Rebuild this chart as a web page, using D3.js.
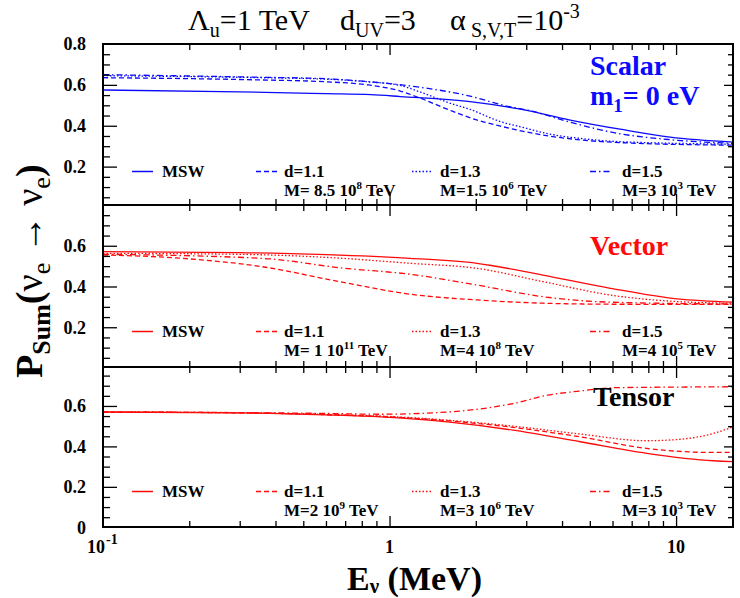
<!DOCTYPE html>
<html>
<head>
<meta charset="utf-8">
<script src="https://cdn.jsdelivr.net/npm/d3@7"></script>
<style>
  body { margin: 0; background: #fff; }
  svg { display: block; }
  svg text { font-family: "Liberation Serif", "DejaVu Serif", serif; }
</style>
</head>
<body>
<script>
// ---- data: [E (MeV), P_sum] ----
const scalarMSW = [[0.1,0.575],[0.3,0.566],[0.6,0.557],[0.86,0.552],[1.09,0.543],[1.91,0.518],[2.86,0.481],[4.27,0.428],[6.38,0.383],[9.53,0.344],[15.8,0.32]];
const scalarD11 = [[0.1,0.635],[0.33,0.625],[0.6,0.615],[0.84,0.6],[1.09,0.57],[1.28,0.535],[1.63,0.475],[2.0,0.43],[2.44,0.398],[3.6,0.35],[4.7,0.33],[7,0.315],[15.8,0.305]];
const scalarD13 = [[0.1,0.645],[0.33,0.636],[0.6,0.628],[0.84,0.615],[1.09,0.597],[1.28,0.565],[1.63,0.51],[1.91,0.48],[2.44,0.42],[2.86,0.395],[3.6,0.36],[4.7,0.337],[6.4,0.322],[15.8,0.31]];
const scalarD15 = [[0.1,0.65],[0.33,0.638],[0.6,0.63],[0.86,0.615],[1.25,0.59],[1.91,0.545],[2.5,0.5],[3.17,0.47],[4.2,0.42],[6.3,0.362],[9.5,0.332],[15.8,0.314]];

const vectorMSW = [[0.1,0.571],[0.3,0.566],[0.6,0.556],[1.18,0.538],[2.02,0.514],[3.43,0.456],[5.9,0.391],[10.1,0.339],[15.8,0.323]];
const vectorD11 = [[0.1,0.555],[0.19,0.538],[0.36,0.497],[0.69,0.42],[1.18,0.362],[2.02,0.334],[3.43,0.318],[6,0.313],[15.8,0.312]];
const vectorD13 = [[0.1,0.563],[0.3,0.558],[0.6,0.543],[1.18,0.514],[2.02,0.489],[3.43,0.424],[5.9,0.358],[10.1,0.326],[15.8,0.318]];
const vectorD15 = [[0.1,0.558],[0.36,0.538],[0.69,0.49],[1.18,0.46],[2.02,0.407],[3.43,0.35],[5.9,0.323],[15.8,0.314]];

const tensorMSW = [[0.1,0.57],[0.3,0.566],[0.6,0.556],[0.93,0.546],[1.59,0.521],[2.7,0.48],[4.63,0.423],[7.9,0.366],[13.5,0.329],[15.8,0.325]];
const tensorD11 = [[0.1,0.57],[0.3,0.566],[0.6,0.557],[0.93,0.548],[1.59,0.527],[2.7,0.494],[4.63,0.447],[7.9,0.39],[13.5,0.37],[15.8,0.37]];
const tensorD13 = [[0.1,0.57],[0.3,0.566],[0.6,0.558],[0.93,0.55],[1.59,0.53],[2.7,0.5],[4.63,0.461],[7.9,0.428],[10.1,0.434],[13.5,0.464],[15.8,0.497]];
const tensorD15 = [[0.1,0.57],[0.3,0.567],[0.6,0.563],[0.93,0.559],[1.59,0.57],[2.7,0.612],[3.55,0.653],[4.63,0.674],[6,0.69],[7.9,0.692],[15.8,0.695]];

const legendNames = ["MSW", "d=1.1", "d=1.3", "d=1.5"];
const scalarMasses = [["M= 8.5 10", "8"], ["M=1.5 10", "6"], ["M=3 10", "3"]];
const vectorMasses = [["M= 1 10", "11"], ["M=4 10", "8"], ["M=4 10", "5"]];
const tensorMasses = [["M=2 10", "9"], ["M=3 10", "6"], ["M=3 10", "3"]];

const yLabelsTop = [0.2, 0.4, 0.6, 0.8];
const yLabelsMid = [0.2, 0.4, 0.6];
const yLabelsBot = [0, 0.2, 0.4, 0.6];
const xLabels = [[0.1, "10", "-1"], [1, "1", ""], [10, "10", ""]];

// ---- layout ----
const W = 740, H = 598;
const left = 103, right = 733;
const blue = "#0a0aff", red = "#ff0a0a";
const dashes = [null, "5,3", "1.5,2", "6,3,1.5,3"];
const serif = "Liberation Serif, DejaVu Serif, serif";

const panels = [
  { top: 44, bottom: 205, y0: 207.5, y8: 44, color: blue, series: [scalarMSW, scalarD11, scalarD13, scalarD15],
    masses: scalarMasses, yLabels: yLabelsTop, legendY: 171.5 },
  { top: 205, bottom: 367, y0: 368, y8: 205, color: red, series: [vectorMSW, vectorD11, vectorD13, vectorD15],
    masses: vectorMasses, yLabels: yLabelsMid, legendY: 331.5 },
  { top: 367, bottom: 527, y0: 527.3, y8: 365.5, color: red, series: [tensorMSW, tensorD11, tensorD13, tensorD15],
    masses: tensorMasses, yLabels: yLabelsBot, legendY: 491.5 }
];

const svg = d3.select("body").append("svg")
  .attr("width", W).attr("height", H)
  .attr("font-family", serif);

const x = d3.scaleLog().domain([0.1, 15.8]).range([left, right]);

const minorX = [0.2,0.3,0.4,0.5,0.6,0.7,0.8,0.9,2,3,4,5,6,7,8,9];
const majorX = [1, 10];

const legendSampleX = [132, 256, 412, 590];
const legendTextX = [162, 284, 440, 622];

function cleanAxis(g) {
  g.select(".domain").remove();
  g.selectAll(".tick line").attr("stroke-width", 1.3);
}

panels.forEach((p, pi) => {
  const y = d3.scaleLinear().domain([0, 0.8]).range([p.y0, p.y8]);
  const inside = v => y(v) > p.top + 0.5 && y(v) < p.bottom - 0.5;
  const allY = d3.range(0, 17).map(i => +(i * 0.05).toFixed(2)).filter(inside);
  const majY = allY.filter(v => Math.abs(v * 5 - Math.round(v * 5)) < 1e-6);
  const minY = allY.filter(v => !majY.includes(v));

  const clipId = "clip" + pi;
  svg.append("clipPath").attr("id", clipId)
    .append("rect").attr("x", left).attr("y", p.top)
    .attr("width", right - left).attr("height", p.bottom - p.top);

  // curves
  const line = d3.line()
    .x(d => x(d[0])).y(d => y(d[1]))
    .curve(d3.curveMonotoneX);
  svg.append("g").attr("clip-path", `url(#${clipId})`)
    .selectAll("path").data(p.series).join("path")
    .attr("d", line)
    .attr("fill", "none")
    .attr("stroke", p.color)
    .attr("stroke-width", 1.3)
    .attr("stroke-dasharray", (d, i) => dashes[i]);

  // y ticks, left (pointing into the frame)
  svg.append("g").attr("transform", `translate(${left},0)`)
    .call(d3.axisRight(y).tickValues(minY).tickSize(7).tickFormat(""))
    .call(cleanAxis);
  svg.append("g").attr("transform", `translate(${left},0)`)
    .call(d3.axisRight(y).tickValues(majY).tickSize(14).tickFormat(""))
    .call(cleanAxis);
  // y ticks, right
  svg.append("g").attr("transform", `translate(${right},0)`)
    .call(d3.axisLeft(y).tickValues(minY).tickSize(5).tickFormat(""))
    .call(cleanAxis);
  svg.append("g").attr("transform", `translate(${right},0)`)
    .call(d3.axisLeft(y).tickValues(majY).tickSize(9).tickFormat(""))
    .call(cleanAxis);

  // x ticks top and bottom
  svg.append("g").attr("transform", `translate(0,${p.top})`)
    .call(d3.axisBottom(x).tickValues(minorX).tickSize(6).tickFormat(""))
    .call(cleanAxis);
  svg.append("g").attr("transform", `translate(0,${p.top})`)
    .call(d3.axisBottom(x).tickValues(majorX).tickSize(11).tickFormat(""))
    .call(cleanAxis);
  svg.append("g").attr("transform", `translate(0,${p.bottom})`)
    .call(d3.axisTop(x).tickValues(minorX).tickSize(6).tickFormat(""))
    .call(cleanAxis);
  svg.append("g").attr("transform", `translate(0,${p.bottom})`)
    .call(d3.axisTop(x).tickValues(majorX).tickSize(11).tickFormat(""))
    .call(cleanAxis);

  // y tick labels
  const yl = svg.append("g").attr("transform", `translate(${left},0)`)
    .call(d3.axisLeft(y).tickValues(p.yLabels).tickSize(0).tickPadding(17)
      .tickFormat(d => d === 0 ? "0" : d3.format(".1f")(d)));
  yl.select(".domain").remove();
  yl.attr("font-family", serif).attr("font-size", 18).attr("font-weight", "bold");

  // frame
  svg.append("rect")
    .attr("x", left).attr("y", p.top)
    .attr("width", right - left).attr("height", p.bottom - p.top)
    .attr("fill", "none").attr("stroke", "#000").attr("stroke-width", 2);

  // legend
  const lg = svg.append("g").attr("font-weight", "bold").attr("font-size", 17);
  legendNames.forEach((name, i) => {
    lg.append("line")
      .attr("x1", legendSampleX[i]).attr("x2", legendSampleX[i] + 21)
      .attr("y1", p.legendY).attr("y2", p.legendY)
      .attr("stroke", p.color).attr("stroke-width", 1.5)
      .attr("stroke-dasharray", dashes[i]);
    lg.append("text")
      .attr("x", legendTextX[i]).attr("y", p.legendY + 5.5)
      .text(name);
    if (i > 0) {
      const [m, e] = p.masses[i - 1];
      const t = lg.append("text")
        .attr("x", legendTextX[i]).attr("y", p.legendY + 24);
      t.append("tspan").text(m);
      t.append("tspan").attr("font-size", 11).attr("dy", -7).text(e);
      t.append("tspan").attr("dy", 7).text(" TeV");
    }
  });
});

// panel names
const nameStyle = sel => sel.attr("font-weight", "bold").attr("font-size", 28);
svg.append("text").call(nameStyle).attr("x", 590).attr("y", 75).attr("fill", blue).text("Scalar");
const m1 = svg.append("text").call(nameStyle).attr("x", 590).attr("y", 105).attr("fill", blue);
m1.append("tspan").text("m");
m1.append("tspan").attr("font-size", 19).attr("dy", 7).text("1");
m1.append("tspan").attr("dy", -7).text("= 0 eV");
svg.append("text").call(nameStyle).attr("x", 590).attr("y", 255).attr("fill", red).text("Vector");
svg.append("text").call(nameStyle).attr("x", 593).attr("y", 406).attr("fill", "#000").text("Tensor");

// x tick labels
const xl = svg.append("g").attr("font-weight", "bold").attr("font-size", 18);
xLabels.forEach(([v, base, sup]) => {
  if (sup) {
    const t = xl.append("text").attr("x", x(v) - 16).attr("y", 553);
    t.append("tspan").text(base);
    t.append("tspan").attr("font-size", 14).attr("dx", 1).attr("dy", -9).text(sup);
  } else {
    xl.append("text").attr("x", x(v)).attr("y", 553).attr("text-anchor", "middle").text(base);
  }
});

// title
const title = svg.append("text").attr("y", 30).attr("font-size", 30);
title.append("tspan").attr("x", 188).text("Λ");
title.append("tspan").attr("font-size", 20).attr("dy", 7).text("u");
title.append("tspan").attr("dy", -7).text("=1 TeV");
title.append("tspan").attr("x", 340).text("d");
title.append("tspan").attr("font-size", 20).attr("dy", 7).text("UV");
title.append("tspan").attr("dy", -7).text("=3");
title.append("tspan").attr("x", 450).text("α");
title.append("tspan").attr("font-size", 20).attr("dy", 7).attr("x", 471).text("S,V,T");
title.append("tspan").attr("dy", -7).text("=10");
title.append("tspan").attr("font-size", 20).attr("dy", -12).text("-3");

// y axis title
const yt = svg.append("text")
  .attr("transform", "translate(42,378) rotate(-90)")
  .attr("font-weight", "bold").attr("font-size", 38);
yt.append("tspan").text("P");
yt.append("tspan").attr("font-size", 26).attr("dy", 8).text("Sum");
yt.append("tspan").attr("dy", -8).text("(");
yt.append("tspan").attr("font-weight", "normal").text("ν");
yt.append("tspan").attr("font-weight", "normal").attr("font-size", 26).attr("dy", 8).text("e");
yt.append("tspan").attr("font-weight", "normal").attr("dy", -8).text(" → ");
yt.append("tspan").attr("font-weight", "normal").text("ν");
yt.append("tspan").attr("font-weight", "normal").attr("font-size", 26).attr("dy", 8).text("e");
yt.append("tspan").attr("dy", -8).text(")");

// x axis title
const xt = svg.append("text").attr("x", 347).attr("y", 590)
  .attr("font-weight", "bold").attr("font-size", 34);
xt.append("tspan").text("E");
xt.append("tspan").attr("font-size", 21).attr("dy", 3).text("ν");
xt.append("tspan").attr("dy", -3).text(" (MeV)");
</script>
</body>
</html>
